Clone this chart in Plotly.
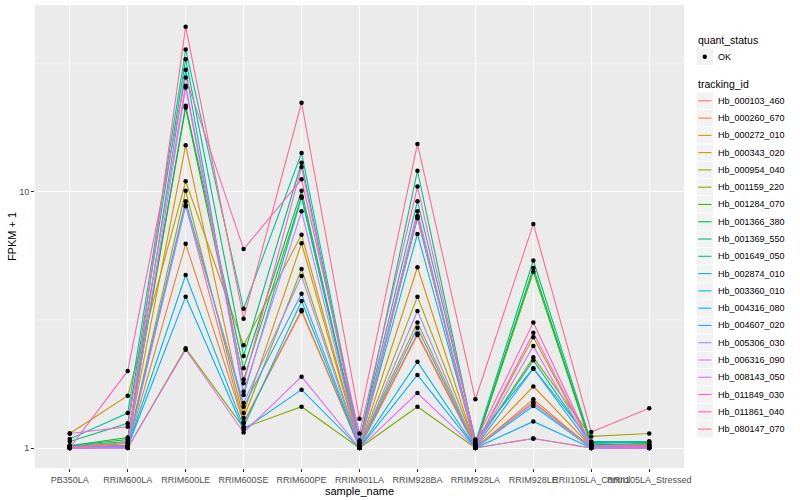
import plotly.graph_objects as go

samples = ["PB350LA", "RRIM600LA", "RRIM600LE", "RRIM600SE", "RRIM600PE", "RRIM901LA",
           "RRIM928BA", "RRIM928LA", "RRIM928LE", "RRII105LA_Control", "RRII105LA_Stressed"]

tracking_ids = ["Hb_000103_460", "Hb_000260_670", "Hb_000272_010", "Hb_000343_020", "Hb_000954_040",
                "Hb_001159_220", "Hb_001284_070", "Hb_001366_380", "Hb_001369_550", "Hb_001649_050",
                "Hb_002874_010", "Hb_003360_010", "Hb_004316_080", "Hb_004607_020", "Hb_005306_030",
                "Hb_006316_090", "Hb_008143_050", "Hb_011849_030", "Hb_011861_040", "Hb_080147_070"]

colors = ["#F8766D", "#EA8331", "#D89000", "#C09B00", "#A3A500", "#7CAE00", "#39B600", "#00BB4E",
          "#00BF7D", "#00C1A3", "#00BFC4", "#00BAE0", "#00B0F6", "#35A2FF", "#9590FF", "#C77CFF",
          "#E76BF3", "#FA62DB", "#FF62BC", "#FF6C91"]

# FPKM + 1 per tracking_id, in sample order
fpkm1 = {
    "Hb_000103_460": [1.01, 1.02, 8.9, 1.25, 3.42, 1.01, 2.80, 1.01, 1.51, 1.01, 1.00],
    "Hb_000260_670": [1.00, 1.01, 6.27, 1.26, 3.46, 1.00, 2.76, 1.00, 1.55, 1.00, 1.02],
    "Hb_000272_010": [1.01, 1.05, 15.2, 1.37, 6.30, 1.01, 5.08, 1.01, 1.74, 1.01, 1.01],
    "Hb_000343_020": [1.14, 1.60, 11.0, 2.52, 6.80, 1.02, 3.09, 1.02, 2.71, 1.02, 1.02],
    "Hb_000954_040": [1.02, 1.02, 10.1, 1.31, 5.00, 1.01, 3.90, 1.02, 2.26, 1.11, 1.14],
    "Hb_001159_220": [1.00, 1.00, 2.45, 1.20, 1.45, 1.00, 1.45, 1.00, 1.09, 1.00, 1.00],
    "Hb_001284_070": [1.02, 1.08, 21.3, 1.85, 9.60, 1.02, 7.90, 1.02, 4.88, 1.02, 1.03],
    "Hb_001366_380": [1.02, 1.10, 21.7, 2.05, 10.1, 1.03, 8.05, 1.03, 5.05, 1.03, 1.04],
    "Hb_001369_550": [1.06, 1.25, 33.0, 2.29, 13.0, 1.05, 12.1, 1.05, 5.40, 1.05, 1.05],
    "Hb_001649_050": [1.085, 1.37, 36.0, 3.50, 14.2, 1.07, 9.20, 1.08, 2.05, 1.06, 1.06],
    "Hb_002874_010": [1.02, 1.06, 30.0, 1.61, 9.50, 1.03, 6.85, 1.03, 2.20, 1.04, 1.06],
    "Hb_003360_010": [1.00, 1.01, 4.74, 1.21, 3.75, 1.00, 2.17, 1.00, 1.46, 1.00, 1.00],
    "Hb_004316_080": [1.00, 1.01, 3.90, 1.18, 1.69, 1.00, 1.93, 1.00, 1.27, 1.00, 1.00],
    "Hb_004607_020": [1.00, 1.02, 9.20, 1.45, 4.00, 1.01, 2.95, 1.01, 2.04, 1.01, 1.01],
    "Hb_005306_030": [1.00, 1.00, 8.80, 1.50, 4.70, 1.00, 3.43, 1.00, 1.49, 1.00, 1.00],
    "Hb_006316_090": [1.00, 1.01, 25.6, 1.66, 8.40, 1.01, 8.00, 1.01, 2.50, 1.00, 1.00],
    "Hb_008143_050": [1.00, 1.00, 2.42, 1.15, 1.90, 1.00, 1.64, 1.00, 1.09, 1.00, 1.00],
    "Hb_011849_030": [1.14, 1.21, 26.0, 1.79, 12.5, 1.03, 8.40, 1.02, 2.82, 1.02, 1.01],
    "Hb_011861_040": [1.00, 2.00, 28.0, 5.98, 11.2, 1.14, 10.5, 1.06, 3.09, 1.02, 1.03],
    "Hb_080147_070": [1.01, 1.04, 44.2, 3.20, 22.3, 1.30, 15.4, 1.55, 7.50, 1.155, 1.43],
}

quant_status = ["OK"]

# ---- geometry (pixels) ----
W, H = 800, 500
PL, PR, PT, PB = 35, 684, 5, 468   # panel box


def px_x(px):
    return (px - PL) / (PR - PL)


def px_y(py):
    return (PB - py) / (PB - PT)


fig = go.Figure()

for tid, col in zip(tracking_ids, colors):
    fig.add_trace(go.Scatter(
        x=samples, y=fpkm1[tid], mode="lines", name=tid,
        line=dict(color=col, width=1.1), showlegend=False,
    ))

all_x = [s for tid in tracking_ids for s in samples]
all_y = [v for tid in tracking_ids for v in fpkm1[tid]]
fig.add_trace(go.Scatter(
    x=all_x, y=all_y, mode="markers", name=quant_status[0],
    marker=dict(color="black", size=4.5), showlegend=False,
))

shapes = []
annotations = []

# minor gridlines (ggplot log scale style)
for yv in [10 ** 0.5, 10 ** 1.5]:
    shapes.append(dict(type="line", xref="paper", x0=0, x1=1, yref="y", y0=yv, y1=yv,
                       line=dict(color="white", width=0.6), layer="below"))

font_family = "Liberation Sans, Arial, sans-serif"
KEY_L, KEY_R = 696.5, 713.0
TEXT_X = 716
STEP = 17.28

# legend: quant_status
annotations.append(dict(text="quant_status", xref="paper", yref="paper", x=px_x(696), y=px_y(40.5),
                        xanchor="left", yanchor="middle", showarrow=False,
                        font=dict(size=10.5, color="black")))
ok_y = 56.8
shapes.append(dict(type="rect", xref="paper", yref="paper", x0=px_x(KEY_L), x1=px_x(KEY_R),
                   y0=px_y(ok_y - 8.2), y1=px_y(ok_y + 8.2), fillcolor="#F2F2F2",
                   line=dict(width=0)))
shapes.append(dict(type="circle", xref="paper", yref="paper", x0=px_x(702.6), x1=px_x(707.0),
                   y0=px_y(ok_y - 2.2), y1=px_y(ok_y + 2.2), fillcolor="black",
                   line=dict(width=0)))
annotations.append(dict(text=quant_status[0], xref="paper", yref="paper", x=px_x(TEXT_X), y=px_y(ok_y),
                        xanchor="left", yanchor="middle", showarrow=False,
                        font=dict(size=9, color="black")))

# legend: tracking_id
annotations.append(dict(text="tracking_id", xref="paper", yref="paper", x=px_x(696), y=px_y(84.5),
                        xanchor="left", yanchor="middle", showarrow=False,
                        font=dict(size=10.5, color="black")))
for i, (tid, col) in enumerate(zip(tracking_ids, colors)):
    cy = 100.8 + i * STEP
    shapes.append(dict(type="rect", xref="paper", yref="paper", x0=px_x(KEY_L), x1=px_x(KEY_R),
                       y0=px_y(cy - 8.2), y1=px_y(cy + 8.2), fillcolor="#F2F2F2",
                       line=dict(width=0)))
    shapes.append(dict(type="line", xref="paper", yref="paper", x0=px_x(698.2), x1=px_x(711.5),
                       y0=px_y(cy), y1=px_y(cy), line=dict(color=col, width=1.1)))
    annotations.append(dict(text=tid, xref="paper", yref="paper", x=px_x(TEXT_X), y=px_y(cy),
                            xanchor="left", yanchor="middle", showarrow=False,
                            font=dict(size=9, color="black")))

fig.update_layout(
    width=W, height=H,
    margin=dict(l=PL, r=W - PR, t=PT, b=H - PB, autoexpand=False),
    paper_bgcolor="white", plot_bgcolor="#EBEBEB",
    font=dict(family=font_family, size=9, color="black"),
    showlegend=False, hovermode=False,
    shapes=shapes, annotations=annotations,
)

fig.update_xaxes(
    type="category", categoryorder="array", categoryarray=samples,
    range=[-0.6, 10.6], showgrid=True, gridcolor="white", gridwidth=1.1,
    zeroline=False, showline=False, ticks="outside", ticklen=3, tickcolor="#333333",
    tickangle=0, tickfont=dict(size=9, color="#4D4D4D"),
    title=dict(text="sample_name", font=dict(size=11, color="black"), standoff=2),
)
fig.update_yaxes(
    type="log", range=[-0.078, 1.730], tickvals=[1, 10], ticktext=["1", "10"],
    showgrid=True, gridcolor="white", gridwidth=1.1, zeroline=False, showline=False,
    ticks="outside", ticklen=3, tickcolor="#333333",
    tickfont=dict(size=9, color="#4D4D4D"),
    title=dict(text="FPKM + 1", font=dict(size=11, color="black"), standoff=0),
)

fig.write_html("out.html", config={"displayModeBar": False},
               post_script="document.body.style.margin='0';")
